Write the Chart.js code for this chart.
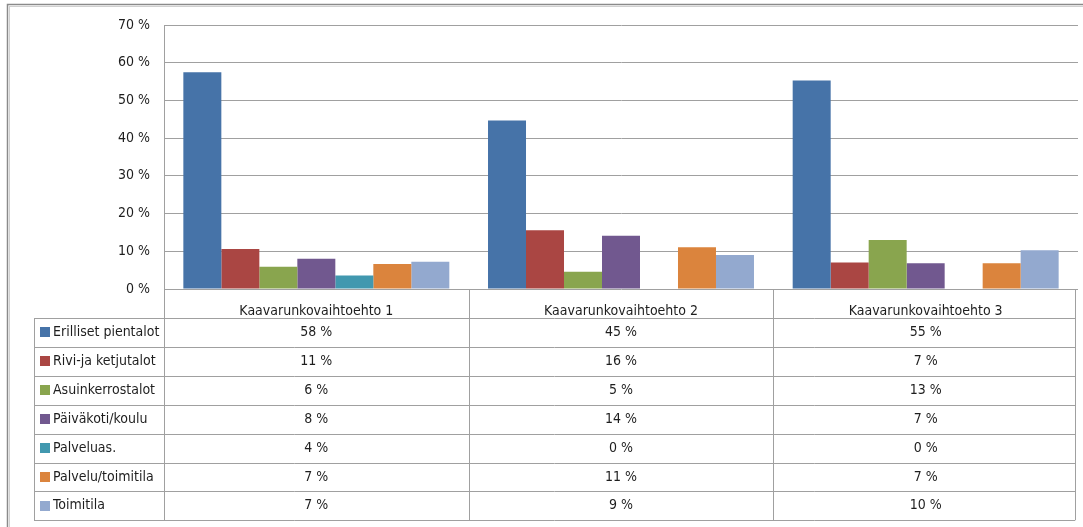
<!DOCTYPE html>
<html>
<head>
<meta charset="utf-8">
<script src="https://cdn.jsdelivr.net/npm/chart.js@4/dist/chart.umd.min.js"></script>
<style>
  body { margin: 0; background: #fff; }
  canvas { display: block; }
</style>
</head>
<body>
<canvas id="kaavio" width="1083" height="527"></canvas>
<script>
// vaihtoehdot ja sarjat
var vaihtoehdot = ['Kaavarunkovaihtoehto 1', 'Kaavarunkovaihtoehto 2', 'Kaavarunkovaihtoehto 3'];
var sarjat = ['Erilliset pientalot', 'Rivi-ja ketjutalot', 'Asuinkerrostalot', 'Päiväkoti/koulu',
    'Palveluas.', 'Palvelu/toimitila', 'Toimitila'];
var varit = ['#4673a8', '#aa4643', '#89a54e', '#71588f', '#4198af', '#db843d', '#93a9cf'];

// osuudet prosentteina (vaihtoehto 1, 2, 3)
var erillisetPientalot = [57.5, 44.7, 55.3];
var riviJaKetjutalot = [10.6, 15.6, 7.0];
var asuinkerrostalot = [5.9, 4.6, 13.0];
var paivakotiKoulu = [8.0, 14.1, 6.8];
var palveluas = [3.6, 0, 0];
var palveluToimitila = [6.6, 11.1, 6.8];
var toimitila = [7.2, 9.0, 10.3];

var arvot = [erillisetPientalot, riviJaKetjutalot, asuinkerrostalot, paivakotiKoulu,
    palveluas, palveluToimitila, toimitila];

var yTicks = [0, 10, 20, 30, 40, 50, 60, 70];

var fontti = "'Liberation Sans Narrow', 'DejaVu Sans Condensed', sans-serif";
var viivaVari = '#a0a0a0';
var tekstiVari = '#1e1e1e';
var riviKorkeus = 28.9;

function prosentti(v) {
    return Math.round(v) + ' %';
}

// taulukko kaavion alle: rivit, selitteet ja arvot
var taulukko = {
    id: 'taulukko',
    beforeDraw: function (chart) {
        var ctx = chart.ctx;
        ctx.save();
        ctx.strokeStyle = '#8a8a8a';
        ctx.lineWidth = 1.5;
        ctx.strokeRect(7.5, 4.5, 1200, 700);
        ctx.strokeStyle = '#d0d0d0';
        ctx.lineWidth = 1;
        ctx.strokeRect(9.5, 6.5, 1200, 700);
        ctx.restore();
    },
    afterDraw: function (chart) {
        var ctx = chart.ctx;
        var alue = chart.chartArea;
        var x = chart.scales.x;
        var vasen = 34;
        var oikea = alue.right - 3;
        var otsikkoAla = alue.bottom + 29;
        var ala = otsikkoAla + riviKorkeus * sarjat.length;

        ctx.save();
        ctx.strokeStyle = viivaVari;
        ctx.lineWidth = 1;

        // vaakaviivat
        for (var i = 0; i <= sarjat.length; i++) {
            var y = Math.round(otsikkoAla + riviKorkeus * i) + 0.5;
            ctx.beginPath();
            ctx.moveTo(vasen, y);
            ctx.lineTo(oikea, y);
            ctx.stroke();
        }

        // pystyviivat
        var rajat = [alue.left];
        for (var k = 1; k < vaihtoehdot.length; k++) {
            rajat.push((x.getPixelForValue(k - 1) + x.getPixelForValue(k)) / 2);
        }
        rajat.push(oikea);
        rajat.forEach(function (rx) {
            ctx.beginPath();
            ctx.moveTo(Math.round(rx) + 0.5, alue.bottom);
            ctx.lineTo(Math.round(rx) + 0.5, ala);
            ctx.stroke();
        });
        ctx.beginPath();
        ctx.moveTo(vasen + 0.5, otsikkoAla);
        ctx.lineTo(vasen + 0.5, ala);
        ctx.stroke();

        // selitteet ja arvot
        ctx.font = '14px ' + fontti;
        ctx.textBaseline = 'middle';
        sarjat.forEach(function (nimi, s) {
            var keski = otsikkoAla + riviKorkeus * (s + 0.5);
            ctx.fillStyle = varit[s];
            ctx.fillRect(40, Math.round(keski - 5), 10, 10);
            ctx.fillStyle = tekstiVari;
            ctx.textAlign = 'left';
            ctx.fillText(nimi, 53, keski);
            ctx.textAlign = 'center';
            arvot[s].forEach(function (v, c) {
                ctx.fillText(prosentti(v), x.getPixelForValue(c), keski);
            });
        });
        ctx.restore();
    }
};

var datasets = sarjat.map(function (nimi, s) {
    return {
        label: nimi,
        data: arvot[s],
        backgroundColor: varit[s],
        borderWidth: 0
    };
});

new Chart(document.getElementById('kaavio').getContext('2d'), {
    type: 'bar',
    data: {
        labels: vaihtoehdot,
        datasets: datasets
    },
    options: {
        responsive: false,
        animation: false,
        layout: {
            padding: { top: 25, right: 5, bottom: 209, left: 0 }
        },
        datasets: {
            bar: {
                barPercentage: 1,
                categoryPercentage: 0.873
            }
        },
        plugins: {
            legend: { display: false },
            tooltip: { enabled: false }
        },
        scales: {
            x: {
                grid: { display: false },
                border: { display: false },
                ticks: {
                    color: tekstiVari,
                    font: { family: fontti, size: 14 },
                    padding: 6,
                    maxRotation: 0
                },
                afterFit: function (scale) { scale.height = 29; }
            },
            y: {
                min: 0,
                max: 70,
                afterBuildTicks: function (scale) {
                    scale.ticks = yTicks.map(function (v) { return { value: v }; });
                },
                grid: { color: viivaVari, lineWidth: 1, drawTicks: false },
                border: { color: viivaVari, width: 1 },
                ticks: {
                    color: tekstiVari,
                    font: { family: fontti, size: 14 },
                    padding: 14,
                    callback: function (v) { return v + ' %'; }
                },
                afterFit: function (scale) { scale.width = 164; }
            }
        }
    },
    plugins: [taulukko]
});
</script>
</body>
</html>
